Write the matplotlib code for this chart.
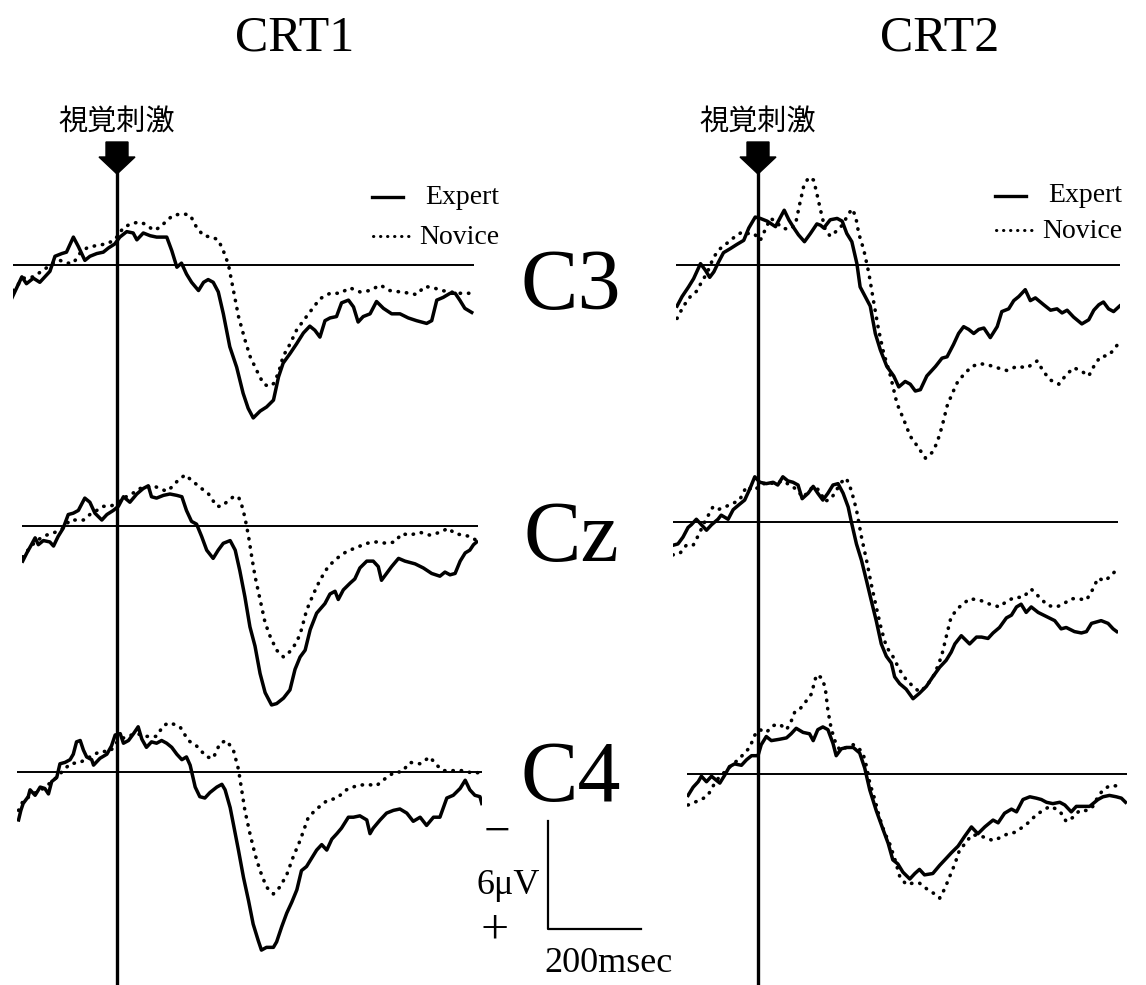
import matplotlib
matplotlib.use("Agg")
import matplotlib.pyplot as plt
from matplotlib.patches import Polygon

plt.rcParams['font.family'] = ['Liberation Serif', 'Noto Sans CJK JP', 'DejaVu Sans']

# ---- data: grand-average ERP waveforms (time in ms, amplitude, negative up) ----
# CRT1 / C3
t_crt1_c3_exp = [-230, -209, -199, -184, -170, -159, -148, -137, -122, -112, -97, -86, -72, -61, -46, -32, -21, -7,
                 4, 19, 33, 41, 55, 70, 84, 106, 117, 128, 138, 149, 160, 175, 186, 196, 207, 218, 229, 243, 258,
                 272, 283, 294, 309, 323, 338, 349, 359, 374, 388, 403, 417, 428, 439, 450, 461, 475, 486, 501,
                 512, 522, 533, 548, 562, 577, 595, 613, 631, 649, 671, 682, 693, 707, 722, 733, 743, 754, 769]
v_crt1_c3_exp = [2.4, 0.9, 1.4, 1.0, 1.3, 0.9, 0.5, -0.6, -0.8, -0.9, -2.0, -1.3, -0.3, -0.6, -0.8, -0.9, -1.2, -1.5,
                 -2.0, -2.4, -2.3, -1.8, -2.3, -2.1, -2.0, -2.0, -1.0, 0.2, -0.1, 0.7, 1.3, 1.9, 1.3, 1.1, 1.3, 2.0,
                 3.6, 6.0, 7.5, 9.4, 10.5, 11.2, 10.7, 10.4, 9.9, 8.2, 7.2, 6.5, 5.8, 5.0, 4.5, 4.8, 5.3, 4.1, 3.9,
                 3.8, 2.8, 2.6, 3.1, 4.2, 3.8, 3.6, 2.7, 3.2, 3.6, 3.6, 3.9, 4.1, 4.3, 4.1, 2.6, 2.4, 2.1, 2.1, 2.6,
                 3.2, 3.5]
t_crt1_c3_nov = [-228, -206, -184, -162, -141, -126, -112, -97, -83, -68, -46, -25, -7, 12, 30, 48, 62, 77, 91, 106,
                 120, 142, 157, 171, 186, 204, 218, 229, 240, 251, 262, 276, 287, 301, 316, 327, 338, 349, 359, 374,
                 388, 403, 421, 439, 461, 483, 504, 526, 548, 570, 591, 613, 635, 649, 667, 686, 704, 722, 743, 769]
v_crt1_c3_nov = [1.9, 1.0, 0.9, 0.4, -0.1, -0.3, -0.1, -0.1, -0.8, -1.2, -1.4, -1.5, -1.8, -2.7, -3.0, -3.1, -2.9,
                 -2.5, -2.7, -3.2, -3.6, -3.7, -3.6, -2.7, -2.1, -2.0, -1.8, -1.0, 0.0, 1.9, 3.8, 5.5, 6.7, 7.7, 8.7,
                 8.9, 8.7, 7.9, 6.7, 5.8, 4.8, 4.1, 3.3, 2.5, 2.1, 2.1, 1.7, 2.0, 1.9, 1.5, 1.9, 2.0, 2.1, 2.2, 1.6,
                 1.7, 1.9, 2.0, 2.1, 2.1]

# CRT1 / Cz
t_crt1_cz_exp = [-205, -196, -186, -178, -171, -160, -146, -138, -128, -117, -106, -95, -84, -70, -59, -48, -33, -22,
                 -8, 3, 14, 28, 43, 57, 68, 75, 86, 101, 115, 130, 141, 151, 162, 173, 184, 195, 209, 220, 231, 246,
                 257, 267, 278, 289, 300, 311, 322, 336, 347, 362, 376, 387, 398, 409, 420, 434, 452, 463, 474, 481,
                 492, 507, 517, 528, 543, 557, 568, 575, 586, 597, 612, 626, 648, 666, 684, 702, 713, 724, 735, 746,
                 757, 767, 775, 782]
v_crt1_cz_exp = [2.6, 2.0, 1.4, 0.9, 1.4, 1.1, 1.2, 1.5, 0.8, 0.2, -0.8, -0.9, -1.1, -2.0, -1.7, -0.9, -0.4, -0.8,
                 -1.1, -1.4, -2.1, -1.7, -2.3, -2.7, -2.9, -2.1, -2.0, -2.2, -2.3, -2.2, -2.1, -1.1, -0.3, -0.1, 0.8,
                 1.8, 2.4, 1.8, 1.3, 1.1, 1.8, 3.3, 5.2, 7.4, 8.8, 10.8, 12.2, 13.1, 13.0, 12.6, 12.0, 10.5, 9.6, 9.1,
                 7.6, 6.4, 5.7, 5.0, 4.8, 5.4, 4.7, 4.2, 3.9, 3.1, 2.6, 2.6, 3.0, 4.0, 3.5, 3.0, 2.4, 2.6, 2.8, 3.1,
                 3.5, 3.7, 3.4, 3.6, 3.5, 2.6, 2.0, 1.8, 1.4, 1.2]
t_crt1_cz_nov = [-205, -189, -175, -153, -135, -117, -102, -88, -73, -59, -44, -30, -15, -1, 14, 32, 50, 64, 79, 93,
                 108, 119, 130, 148, 162, 180, 199, 217, 228, 238, 253, 264, 271, 278, 286, 293, 300, 311, 322, 333,
                 347, 362, 376, 391, 401, 412, 427, 441, 459, 478, 499, 521, 543, 564, 586, 604, 619, 637, 659, 680,
                 702, 720, 735, 753, 767, 782]
v_crt1_cz_nov = [2.3, 1.6, 1.1, 0.7, 0.5, 0.2, -0.4, -0.4, -0.4, -0.8, -1.1, -1.4, -1.4, -1.6, -2.0, -2.3, -2.7,
                 -2.8, -2.9, -2.7, -2.5, -2.8, -3.2, -3.7, -3.3, -2.8, -2.3, -1.4, -1.4, -1.7, -2.1, -2.1, -1.5, -0.6,
                 0.8, 2.3, 3.7, 5.4, 7.1, 8.1, 9.1, 9.6, 9.2, 8.5, 7.6, 6.2, 5.0, 4.0, 3.0, 2.4, 1.9, 1.6, 1.3, 1.2,
                 1.3, 1.2, 0.6, 0.7, 0.5, 0.7, 0.5, 0.2, 0.6, 0.7, 0.8, 1.1]

# CRT1 / C4
t_crt1_c4_exp = [-214, -209, -204, -193, -189, -178, -167, -157, -149, -142, -131, -124, -113, -102, -95, -88, -80,
                 -73, -66, -55, -51, -37, -22, -12, -4, 7, 14, 25, 36, 46, 54, 64, 75, 86, 97, 108, 119, 130, 141,
                 151, 159, 170, 180, 191, 202, 217, 228, 235, 246, 253, 264, 275, 286, 296, 307, 314, 325, 340, 347,
                 358, 369, 380, 391, 401, 412, 423, 434, 445, 456, 467, 478, 488, 503, 514, 528, 543, 550, 557, 572,
                 586, 601, 615, 630, 644, 659, 673, 688, 702, 717, 731, 746, 757, 767, 778, 789, 793]
v_crt1_c4_exp = [3.5, 2.8, 2.3, 1.8, 1.3, 1.7, 1.1, 1.2, 1.6, 0.7, 0.4, -0.6, -0.7, -0.9, -1.3, -2.2, -2.3, -1.6,
                 -1.1, -0.9, -0.5, -1.0, -1.3, -1.9, -2.7, -2.8, -2.1, -2.3, -2.8, -3.3, -2.4, -1.8, -2.2, -2.1, -2.3,
                 -2.1, -1.8, -1.3, -0.9, -1.1, -0.5, 1.1, 1.8, 1.9, 1.5, 1.1, 0.9, 1.3, 2.6, 3.8, 5.7, 7.7, 9.4, 11.1,
                 12.3, 13.0, 12.8, 12.8, 12.4, 11.3, 10.3, 9.5, 8.6, 7.2, 6.9, 6.3, 5.7, 5.3, 5.7, 4.9, 4.5, 4.1, 3.3,
                 3.3, 3.2, 3.5, 4.5, 4.1, 3.5, 3.0, 2.8, 2.7, 3.0, 3.6, 3.3, 3.9, 3.3, 3.3, 1.9, 1.7, 1.2, 0.6, 1.3,
                 1.7, 1.8, 2.3]
t_crt1_c4_nov = [-214, -204, -182, -160, -138, -120, -102, -80, -59, -37, -15, 3, 21, 43, 64, 86, 101, 115, 137, 155,
                 173, 195, 209, 224, 238, 253, 264, 271, 278, 289, 300, 311, 325, 340, 354, 369, 383, 398, 416, 434,
                 456, 478, 499, 521, 543, 564, 586, 604, 619, 637, 659, 680, 695, 709, 731, 753, 775, 793]
v_crt1_c4_nov = [2.8, 2.1, 1.6, 1.2, 0.6, 0.0, -0.6, -0.7, -1.1, -1.5, -1.5, -2.3, -2.6, -2.8, -2.6, -2.6, -3.4,
                 -3.6, -3.3, -2.3, -1.9, -1.1, -1.0, -2.1, -2.3, -1.6, -0.2, 1.3, 2.8, 4.5, 6.0, 7.2, 8.4, 8.9, 8.4,
                 7.5, 6.2, 5.0, 3.3, 2.7, 2.1, 1.9, 1.3, 1.0, 0.9, 1.0, 0.4, 0.0, 0.0, -0.7, -0.6, -1.1, -0.5, -0.1,
                 -0.1, -0.1, 0.1, 0.0]

# CRT2 / C3
t_crt2_c3_exp = [-176, -165, -151, -140, -125, -114, -105, -96, -86, -75, -60, -46, -31, -20, -6, 5, 20, 38, 49, 57,
                 67, 78, 88, 101, 114, 128, 136, 143, 157, 172, 183, 193, 204, 215, 222, 233, 244, 255, 266, 280,
                 295, 306, 320, 331, 342, 353, 367, 386, 400, 411, 425, 436, 447, 458, 469, 480, 491, 505, 520, 530,
                 545, 556, 567, 581, 592, 603, 621, 636, 650, 661, 672, 686, 704, 719, 730, 741, 751, 762, 773, 786]
v_crt2_c3_exp = [3.0, 2.3, 1.6, 1.0, -0.1, 0.4, 0.9, 0.5, -0.2, -0.9, -1.2, -1.5, -1.8, -2.7, -3.5, -3.4, -3.2,
                 -2.8, -3.5, -4.0, -3.3, -2.7, -2.2, -1.7, -2.3, -3.0, -2.9, -2.7, -3.3, -3.4, -3.2, -2.3, -1.7, -0.1,
                 1.6, 2.3, 3.0, 5.0, 6.2, 7.4, 8.1, 8.9, 8.5, 8.7, 9.2, 9.1, 8.1, 7.4, 6.8, 6.7, 5.8, 5.0, 4.5, 4.7,
                 5.0, 4.7, 4.6, 5.3, 4.5, 3.4, 3.2, 2.6, 2.3, 1.8, 2.6, 2.4, 2.9, 3.3, 3.2, 3.5, 3.3, 3.8, 4.3, 4.0,
                 3.3, 2.9, 2.7, 3.2, 3.4, 3.0]
t_crt2_c3_nov = [-176, -162, -147, -133, -122, -111, -96, -82, -67, -49, -35, -24, -9, 5, 16, 27, 38, 52, 67, 81,
                 91, 99, 110, 121, 128, 136, 146, 157, 168, 183, 193, 204, 212, 219, 230, 241, 251, 262, 273, 288,
                 302, 317, 331, 346, 364, 378, 389, 400, 411, 422, 433, 447, 465, 483, 501, 520, 541, 563, 585, 607,
                 621, 636, 654, 668, 686, 701, 719, 730, 744, 762, 773, 784]
v_crt2_c3_nov = [3.9, 3.0, 2.3, 1.9, 1.2, 0.6, -0.6, -1.2, -1.6, -2.1, -2.4, -2.3, -2.3, -1.8, -2.6, -3.4, -3.2,
                 -2.7, -2.6, -2.9, -4.5, -5.7, -6.4, -6.2, -5.2, -4.0, -2.6, -2.1, -2.4, -2.9, -3.5, -4.1, -3.6, -2.3,
                 -1.1, 0.6, 2.6, 4.7, 6.4, 8.1, 10.1, 11.3, 12.5, 13.2, 14.1, 13.7, 13.0, 11.8, 10.3, 9.4, 8.6, 8.0,
                 7.4, 7.2, 7.3, 7.5, 7.7, 7.4, 7.5, 7.0, 7.8, 8.4, 8.7, 8.1, 7.5, 7.7, 8.1, 7.4, 6.7, 6.6, 6.2, 5.7]

# CRT2 / Cz
t_crt2_cz_exp = [-185, -174, -163, -152, -145, -134, -123, -112, -101, -87, -80, -65, -54, -40, -29, -18, -7, 4, 18,
                 33, 43, 54, 65, 76, 87, 96, 109, 120, 130, 141, 152, 163, 174, 185, 196, 203, 214, 225, 236, 246,
                 257, 268, 279, 290, 297, 308, 322, 337, 351, 366, 380, 395, 409, 420, 428, 442, 460, 475, 486, 500,
                 511, 525, 540, 551, 562, 572, 583, 594, 609, 627, 645, 659, 670, 688, 703, 714, 725, 746, 761, 772,
                 780]
v_crt2_cz_exp = [1.7, 1.6, 1.1, 0.4, 0.2, -0.2, 0.2, 0.6, 0.2, -0.2, -0.5, -0.2, -0.9, -1.3, -1.6, -2.4, -3.3, -2.9,
                 -2.8, -2.9, -2.7, -3.3, -3.0, -2.9, -2.7, -1.7, -2.1, -2.6, -2.1, -1.6, -2.1, -2.7, -2.8, -2.1, -1.1,
                 0.0, 1.6, 2.8, 4.3, 5.7, 7.2, 8.9, 9.8, 10.3, 11.3, 11.8, 12.2, 12.9, 12.5, 12.0, 11.3, 10.6, 10.1,
                 9.5, 8.9, 8.3, 8.9, 8.4, 8.4, 8.5, 8.1, 7.7, 7.0, 6.8, 6.2, 6.0, 6.6, 6.2, 6.6, 6.9, 7.2, 7.8, 7.7,
                 8.0, 8.1, 8.0, 7.4, 7.2, 7.4, 7.8, 8.0]
t_crt2_cz_nov = [-185, -170, -156, -141, -130, -116, -98, -87, -72, -58, -40, -25, -11, 4, 18, 36, 54, 69, 83, 98,
                 109, 120, 134, 145, 159, 170, 181, 192, 203, 214, 225, 236, 246, 257, 268, 279, 293, 308, 322, 337,
                 351, 366, 384, 399, 409, 420, 438, 460, 482, 504, 525, 540, 558, 576, 594, 612, 630, 649, 663, 681,
                 696, 714, 728, 739, 754, 768, 779]
v_crt2_cz_nov = [2.4, 2.3, 1.7, 1.7, 1.0, 0.0, -1.1, -0.9, -1.1, -1.3, -1.6, -2.6, -2.3, -2.6, -2.9, -2.8, -3.0,
                 -2.7, -2.4, -1.8, -2.2, -2.6, -2.3, -1.5, -1.7, -2.3, -2.9, -3.2, -2.3, -0.9, 1.1, 2.8, 4.5, 6.2, 7.8,
                 9.1, 9.8, 10.8, 11.5, 12.0, 12.4, 12.0, 11.1, 9.8, 8.4, 6.9, 6.2, 5.6, 5.7, 6.0, 6.2, 5.8, 5.5, 5.5,
                 4.9, 5.5, 6.1, 6.2, 6.0, 5.6, 5.6, 5.7, 4.9, 4.1, 4.3, 3.9, 3.5]

# CRT2 / C4
t_crt2_c4_exp = [-152, -141, -130, -123, -112, -101, -94, -83, -72, -62, -51, -36, -25, -14, 0, 7, 18, 29, 47, 62,
                 72, 83, 98, 112, 120, 130, 141, 152, 163, 170, 181, 192, 207, 221, 232, 243, 257, 272, 283, 293,
                 304, 315, 330, 341, 351, 362, 380, 395, 409, 420, 435, 449, 464, 478, 493, 511, 522, 536, 551, 562,
                 576, 591, 605, 616, 627, 641, 656, 667, 681, 692, 707, 721, 739, 750, 764, 779, 790, 799]
v_crt2_c4_exp = [1.6, 1.0, 0.6, 0.2, 0.6, 0.2, 0.4, 0.7, 0.1, -0.5, -0.7, -0.6, -1.0, -1.3, -1.3, -2.1, -2.7, -2.4,
                 -2.5, -2.6, -2.9, -3.3, -3.0, -2.9, -2.4, -3.2, -3.4, -3.2, -2.2, -1.3, -1.8, -1.9, -1.9, -1.5, -0.4,
                 1.2, 2.7, 4.1, 5.1, 6.3, 6.6, 7.2, 7.7, 7.3, 7.0, 7.4, 7.3, 6.7, 6.2, 5.8, 5.3, 4.6, 3.9, 4.4, 3.9,
                 3.4, 3.6, 2.9, 2.6, 2.8, 1.9, 1.7, 1.8, 1.9, 2.1, 2.2, 2.1, 2.3, 2.8, 2.4, 2.4, 2.4, 1.9, 1.7, 1.6,
                 1.7, 1.8, 2.1]
t_crt2_c4_nov = [-152, -138, -123, -109, -94, -83, -69, -58, -43, -29, -18, -7, 4, 18, 33, 47, 62, 72, 80, 91, 105,
                 116, 127, 138, 146, 152, 159, 167, 178, 192, 207, 217, 228, 236, 243, 254, 264, 275, 286, 297, 308,
                 322, 337, 351, 366, 380, 395, 406, 417, 428, 438, 453, 464, 478, 496, 511, 525, 543, 558, 576, 591,
                 605, 620, 634, 649, 659, 670, 685, 699, 717, 728, 739, 750, 764, 779, 793]
v_crt2_c4_nov = [2.3, 2.1, 1.9, 1.6, 0.7, 0.2, -0.2, -0.6, -1.0, -1.5, -1.9, -2.8, -3.2, -3.0, -3.5, -3.6, -3.2,
                 -3.8, -4.5, -4.7, -5.3, -5.8, -7.2, -7.0, -6.3, -4.6, -3.3, -2.4, -1.7, -1.9, -2.1, -1.9, -1.5, -0.5,
                 0.7, 1.9, 3.2, 4.3, 5.1, 6.2, 7.5, 8.1, 8.0, 8.0, 8.4, 8.7, 9.1, 8.4, 7.5, 6.6, 5.6, 5.0, 4.5, 4.5,
                 4.7, 4.9, 4.7, 4.4, 4.3, 3.9, 3.5, 3.0, 2.7, 2.4, 2.6, 2.9, 3.5, 3.2, 2.7, 2.7, 2.4, 1.7, 1.2, 0.9,
                 0.9, 0.9]

electrodes = ['C3', 'Cz', 'C4']
conditions = ['CRT1', 'CRT2']
stimulus_label = '視覚刺激'

# ---- layout (pixels of the 1146x985 image) ----
W, H = 1146, 985
PX_MS = 0.46      # pixels per ms
PX_AMP = 13.7     # pixels per amplitude unit
# (stimulus x, baseline y, t start, t end) for each panel
layout = {
    ('CRT1', 'C3'): (118, 264.5, -228, 774),
    ('CRT1', 'Cz'): (117, 525.5, -207, 785),
    ('CRT1', 'C4'): (117, 772, -217, 793),
    ('CRT2', 'C3'): (758, 265, -178, 787),
    ('CRT2', 'Cz'): (758, 522, -185, 783),
    ('CRT2', 'C4'): (758, 773.5, -154, 802),
}
waves = {
    ('CRT1', 'C3'): (t_crt1_c3_exp, v_crt1_c3_exp, t_crt1_c3_nov, v_crt1_c3_nov),
    ('CRT1', 'Cz'): (t_crt1_cz_exp, v_crt1_cz_exp, t_crt1_cz_nov, v_crt1_cz_nov),
    ('CRT1', 'C4'): (t_crt1_c4_exp, v_crt1_c4_exp, t_crt1_c4_nov, v_crt1_c4_nov),
    ('CRT2', 'C3'): (t_crt2_c3_exp, v_crt2_c3_exp, t_crt2_c3_nov, v_crt2_c3_nov),
    ('CRT2', 'Cz'): (t_crt2_cz_exp, v_crt2_cz_exp, t_crt2_cz_nov, v_crt2_cz_nov),
    ('CRT2', 'C4'): (t_crt2_c4_exp, v_crt2_c4_exp, t_crt2_c4_nov, v_crt2_c4_nov),
}
DOTS = (0, (0.1, 2.2))

fig = plt.figure(figsize=(W / 100, H / 100), dpi=100)

# overlay in pixel coordinates for annotations
ov = fig.add_axes([0, 0, 1, 1])
ov.set_xlim(0, W)
ov.set_ylim(H, 0)
ov.axis('off')


def make_panel(stim_x, base_y, t0, t1, vtop=-8, vbot=15):
    left = stim_x + t0 * PX_MS
    right = stim_x + t1 * PX_MS
    top = base_y + vtop * PX_AMP
    bot = base_y + vbot * PX_AMP
    ax = fig.add_axes([left / W, 1 - bot / H, (right - left) / W, (bot - top) / H])
    ax.set_xlim(t0, t1)
    ax.set_ylim(vbot, vtop)  # negative up
    ax.patch.set_alpha(0)
    ax.axis('off')
    ax.axhline(0, color='black', lw=1.4)
    return ax


for key, (sx, by, t0, t1) in layout.items():
    ax = make_panel(sx, by, t0, t1)
    te, ve, tn, vn = waves[key]
    ax.plot(tn, vn, color='black', lw=2.6, linestyle=DOTS, dash_capstyle='round')
    ax.plot(te, ve, color='black', lw=2.5, solid_joinstyle='round')

# stimulus onset lines with arrows
for sx in (117, 758):
    ov.plot([sx, sx], [170, H], color='black', lw=2.4)
    ov.add_patch(Polygon([[sx - 11, 142], [sx + 11, 142], [sx + 11, 157], [sx + 18, 157],
                          [sx, 174], [sx - 18, 157], [sx - 11, 157]], closed=True, color='black'))
    ov.text(sx, 122, stimulus_label, ha='center', va='center', fontsize=21,
            family=['Noto Sans CJK JP', 'DejaVu Sans'])

# condition titles
ov.text(295, 38, conditions[0], ha='center', va='center', fontsize=36)
ov.text(940, 38, conditions[1], ha='center', va='center', fontsize=36)

# electrode labels
for name, y in zip(electrodes, (288, 540, 780)):
    ov.text(571, y, name, ha='center', va='center', fontsize=62)

# legends
for lx, ey, ny in ((372, 197, 236), (995, 196, 230)):
    ov.plot([lx, lx + 31], [ey, ey], color='black', lw=2.4)
    ov.plot([lx + 1, lx + 40], [ny, ny], color='black', lw=2.2, linestyle=DOTS, dash_capstyle='round')
    ov.text(lx + 53, ey, 'Expert', ha='left', va='center', fontsize=20)
    ov.text(lx + 47, ny + 1, 'Novice', ha='left', va='center', fontsize=20)

# calibration bar: 6 uV / 200 ms
ov.plot([548, 548, 641], [821, 929, 929], color='black', lw=1.6)
ov.text(497, 833, '−', ha='center', va='center', fontsize=34)
ov.text(508, 886, '6μV', ha='center', va='center', fontsize=26)
ov.text(495, 931, '+', ha='center', va='center', fontsize=36)
ov.text(608, 963, '200msec', ha='center', va='center', fontsize=26)

fig.savefig('out.png', dpi=100)
